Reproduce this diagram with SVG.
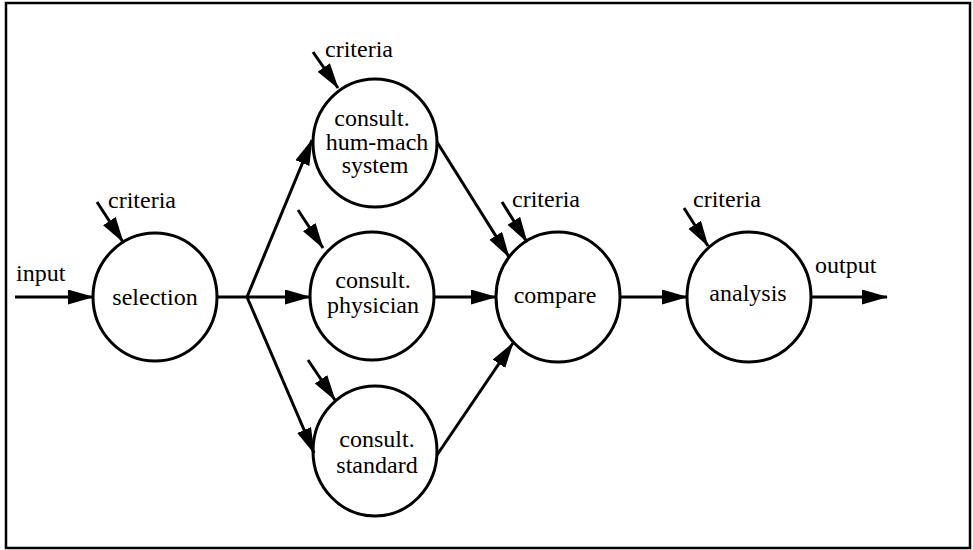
<svg xmlns="http://www.w3.org/2000/svg" width="973" height="550" viewBox="0 0 973 550" font-family="'Liberation Serif', 'Times New Roman', 'DejaVu Serif', serif">
<defs>
<style>
.nd ellipse{fill:#fff;stroke:#000;stroke-width:3}
.t{font-family:'Liberation Serif','Times New Roman','DejaVu Serif',serif !important;font-size:24px;fill:#000}
.c{text-anchor:middle}
.edges line,.edges polyline{stroke:#000;stroke-width:3;fill:none}
.a{marker-end:url(#ah)}
</style>
<marker id="ah" markerUnits="userSpaceOnUse" markerWidth="28" markerHeight="16" refX="25" refY="7.5" orient="auto">
<path d="M0,0 L26,7.5 L0,15 z" fill="#000"/>
</marker>
</defs>
<rect x="0" y="0" width="973" height="550" fill="#fff"/>
<rect x="6" y="3" width="964" height="545" fill="none" stroke="#000" stroke-width="2.5"/>
<g id="selection" class="nd"><ellipse cx="155" cy="297" rx="62" ry="64"/><text class="t c" x="155" y="305">selection</text></g>
<g id="hummach" class="nd"><ellipse cx="375" cy="143" rx="62" ry="64"/><text class="t c" x="372" y="126">consult.</text><text class="t c" x="377" y="150">hum-mach</text><text class="t c" x="375" y="173">system</text></g>
<g id="physician" class="nd"><ellipse cx="372" cy="296" rx="62" ry="64"/><text class="t c" x="373" y="288">consult.</text><text class="t c" x="373" y="313">physician</text></g>
<g id="standard" class="nd"><ellipse cx="375" cy="451" rx="62" ry="65"/><text class="t c" x="377" y="447">consult.</text><text class="t c" x="377" y="473">standard</text></g>
<g id="compare" class="nd"><ellipse cx="558" cy="297" rx="62" ry="65"/><text class="t c" x="555" y="303">compare</text></g>
<g id="analysis" class="nd"><ellipse cx="749" cy="297" rx="62" ry="65"/><text class="t c" x="748" y="301">analysis</text></g>
<g id="labels">
<text class="t" x="16" y="281">input</text>
<text class="t" x="815" y="273">output</text>
<text class="t" x="108" y="208">criteria</text>
<text class="t" x="325" y="57">criteria</text>
<text class="t" x="512" y="207">criteria</text>
<text class="t" x="693" y="207">criteria</text>
</g>
<g class="edges">
<line class="a" x1="15" y1="297" x2="93" y2="297"/>
<polyline points="217,297 247,297"/>
<line class="a" x1="247" y1="297" x2="312" y2="140"/>
<line class="a" x1="247" y1="297" x2="310" y2="297"/>
<line class="a" x1="247" y1="297" x2="314" y2="453"/>
<line class="a" x1="437" y1="142" x2="509" y2="257"/>
<line class="a" x1="434" y1="297" x2="496" y2="297"/>
<line class="a" x1="437" y1="455" x2="513" y2="343"/>
<line class="a" x1="620" y1="297" x2="687" y2="297"/>
<line class="a" x1="811" y1="297" x2="887" y2="297"/>
<line class="a" x1="97" y1="202" x2="123" y2="242"/>
<line class="a" x1="313" y1="52" x2="338" y2="88"/>
<line class="a" x1="298" y1="210" x2="323" y2="248"/>
<line class="a" x1="308" y1="360" x2="335" y2="400"/>
<line class="a" x1="502" y1="202" x2="527" y2="242"/>
<line class="a" x1="684" y1="208" x2="708" y2="246"/>
</g>
</svg>
